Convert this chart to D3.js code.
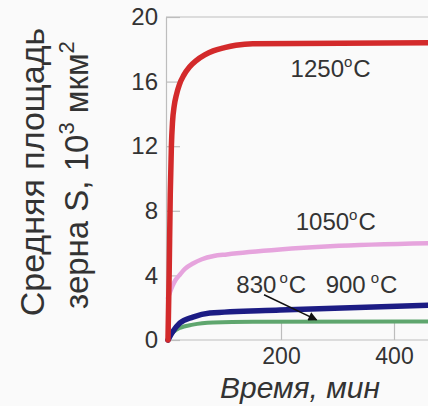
<!DOCTYPE html>
<html>
<head>
<meta charset="utf-8">
<script src="https://cdn.jsdelivr.net/npm/d3@7"></script>
<style>
  html, body { margin: 0; padding: 0; background: #fafafa; }
  svg { display: block; font-family: 'Liberation Sans', Arial, sans-serif; }
</style>
</head>
<body>
<div id="chart"></div>
<script>
// values (time in min, grain area in 10^3 um^2)
const yTicks = [0, 4, 8, 12, 16, 20];
const xTicks = [200, 400];

const t1250 = [0, 2, 4, 6, 8, 11, 15, 20, 28, 38, 50, 65, 80, 100, 120, 150, 480];
const s1250 = [0, 4, 9, 12, 13.5, 14.5, 15.2, 15.8, 16.4, 16.9, 17.3, 17.65, 17.9, 18.1, 18.25, 18.35, 18.4];

const t1050 = [0, 4, 8, 13, 20, 30, 45, 60, 81, 104, 198, 287, 480];
const s1050 = [2.6, 3.0, 3.35, 3.7, 4.0, 4.4, 4.75, 5.0, 5.2, 5.3, 5.6, 5.8, 6.0];

const t900 = [0, 8, 21, 44, 74, 198, 480];
const s900 = [0, 0.5, 1.05, 1.42, 1.67, 1.86, 2.17];

const t830 = [0, 5, 10, 21, 44, 80, 150, 480];
const s830 = [0, 0.3, 0.5, 0.75, 0.95, 1.08, 1.13, 1.15];

const width = 428;
const height = 406;

const x = d3.scaleLinear().domain([0, 400]).range([168, 394]);
const y = d3.scaleLinear().domain([0, 20]).range([340, 17]);

const svg = d3.select('#chart')
  .append('svg')
  .attr('width', width)
  .attr('height', height);

// axes with inward ticks
const yAxis = svg.append('g')
  .attr('transform', `translate(${x(0) - 2},0)`)
  .call(d3.axisLeft(y).tickValues(yTicks).tickSize(-14).tickSizeOuter(0).tickPadding(8));

const xAxis = svg.append('g')
  .attr('transform', `translate(0,${y(0)})`)
  .call(d3.axisBottom(x).tickValues(xTicks).tickSize(-18).tickSizeOuter(0).tickPadding(8));

// top border of the plot box
svg.append('line')
  .attr('x1', x(0) - 2).attr('x2', width)
  .attr('y1', y(20)).attr('y2', y(20))
  .attr('stroke', '#bdbdbd').attr('stroke-width', 1.2);

xAxis.select('.domain').attr('d', `M${x(0) - 2},0H${width}`);

[xAxis, yAxis].forEach((g) => {
  g.selectAll('.domain, line').attr('stroke', '#bdbdbd').attr('stroke-width', 1.2);
  g.selectAll('text')
    .attr('fill', '#333')
    .style('font-size', '24px')
    .style('font-family', "'Liberation Sans', Arial, sans-serif");
});
xAxis.selectAll('text').style('font-size', '23px');

// curves
const line = d3.line()
  .x((d) => x(d[0]))
  .y((d) => y(d[1]))
  .curve(d3.curveMonotoneX);

const series = [
  { t: t830, s: s830, color: '#5fa66e', w: 4 },
  { t: t900, s: s900, color: '#1c1c84', w: 5.5 },
  { t: t1050, s: s1050, color: '#e6a4dd', w: 4.5 },
  { t: t1250, s: s1250, color: '#d32a2b', w: 5.5 }
];

series.forEach((d) => {
  svg.append('path')
    .datum(d3.zip(d.t, d.s))
    .attr('d', line)
    .attr('fill', 'none')
    .attr('stroke', d.color)
    .attr('stroke-width', d.w)
    .attr('stroke-linecap', 'round')
    .attr('stroke-linejoin', 'round');
});

// temperature labels
const labelText = ['1250', '1050', '830', '900'];
const labelT = [217, 226, 121, 279];
const labelS = [16.3, 6.8, 2.9, 2.9];
const labelGap = [0, 0, 3, 5];

labelText.forEach((txt, i) => {
  const t = svg.append('text')
    .attr('x', x(labelT[i]))
    .attr('y', y(labelS[i]))
    .attr('fill', '#333')
    .style('font-size', '24px');
  t.append('tspan').text(txt);
  t.append('tspan').attr('dx', labelGap[i]).attr('dy', -10).style('font-size', '15px').text('o');
  t.append('tspan').attr('dy', 10).attr('dx', 1).text('C');
});

// arrow from 830 label to its curve
svg.append('defs').append('marker')
  .attr('id', 'arr')
  .attr('viewBox', '0 0 10 10')
  .attr('refX', 9).attr('refY', 5)
  .attr('markerWidth', 12).attr('markerHeight', 9)
  .attr('markerUnits', 'userSpaceOnUse')
  .attr('orient', 'auto')
  .append('path')
  .attr('d', 'M0,0L10,5L0,10z')
  .attr('fill', '#111');

svg.append('line')
  .attr('x1', x(170)).attr('y1', y(2.8))
  .attr('x2', x(263)).attr('y2', y(1.25))
  .attr('stroke', '#111')
  .attr('stroke-width', 1.5)
  .attr('marker-end', 'url(#arr)');

// axis titles
svg.append('text')
  .attr('transform', 'translate(44,172) rotate(-90)')
  .attr('text-anchor', 'middle')
  .attr('fill', '#333')
  .style('font-size', '34px')
  .text('Средняя площадь');

const yt = svg.append('text')
  .attr('transform', 'translate(88,175) rotate(-90)')
  .attr('text-anchor', 'middle')
  .attr('fill', '#333')
  .style('font-size', '33px');
yt.append('tspan').text('зерна S, 10');
yt.append('tspan').attr('dy', -14).style('font-size', '22px').text('3');
yt.append('tspan').attr('dy', 14).text(' мкм');
yt.append('tspan').attr('dy', -14).style('font-size', '22px').text('2');

svg.append('text')
  .attr('x', 300)
  .attr('y', 398)
  .attr('text-anchor', 'middle')
  .attr('fill', '#333')
  .style('font-size', '30px')
  .style('font-style', 'italic')
  .text('Время, мин');
</script>
</body>
</html>
